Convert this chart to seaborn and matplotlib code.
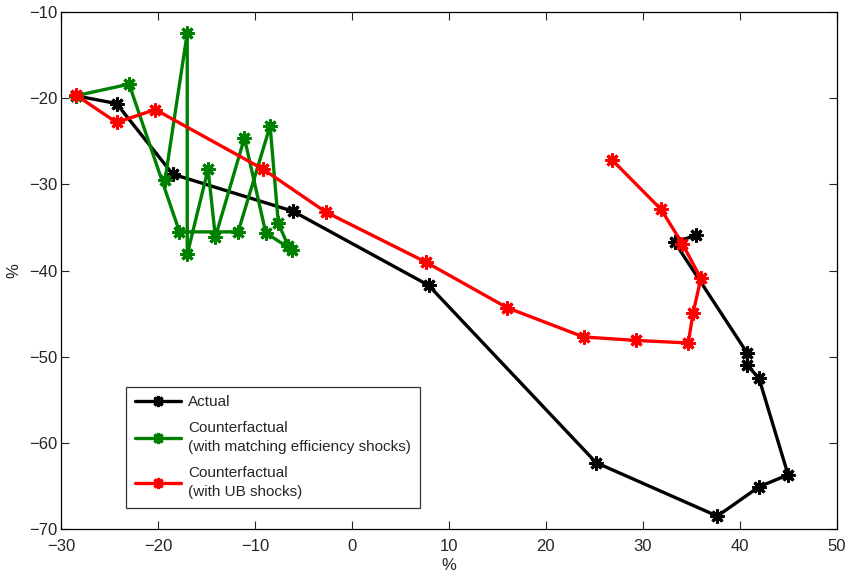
import pandas as pd
import matplotlib
matplotlib.use("Agg")
import matplotlib.pyplot as plt
import seaborn as sns

# Actual path
actual_x = [-28.5, -24.3, -18.5, -6.1, 7.9, 25.2, 37.7, 42.0, 45.0, 42.0, 40.8, 40.8, 33.3, 35.5]
actual_y = [-19.7, -20.6, -28.8, -33.1, -41.7, -62.3, -68.5, -65.1, -63.7, -52.5, -51.0, -49.6, -36.7, -35.9]

# Counterfactual with matching efficiency shocks
match_x = [-28.5, -23.0, -17.8, -11.75, -8.45, -7.6, -6.6, -6.2, -8.9, -11.1, -14.1, -14.85, -17.0, -17.0, -19.3]
match_y = [-19.7, -18.35, -35.5, -35.5, -23.2, -34.5, -37.1, -37.6, -35.6, -24.6, -36.1, -28.2, -38.1, -12.4, -29.5]

# Counterfactual with UB shocks
ub_x = [-28.5, -24.3, -20.3, -9.2, -2.7, 7.6, 16.0, 23.9, 29.3, 34.7, 35.2, 36.0, 34.1, 31.9, 26.8]
ub_y = [-19.6, -22.8, -21.3, -28.2, -33.2, -39.0, -44.3, -47.7, -48.1, -48.4, -44.9, -40.9, -36.9, -32.9, -27.1]

labels = ["Actual",
          "Counterfactual\n(with matching efficiency shocks)",
          "Counterfactual\n(with UB shocks)"]
colors = ["black", (0, 0.5, 0), (1, 0, 0)]

sns.set_style("white")
plt.rcParams['font.family'] = ['Liberation Sans', 'DejaVu Sans']
plt.rcParams['axes.unicode_minus'] = True

fig = plt.figure(figsize=(8.51, 5.82), dpi=100)
ax = fig.add_axes([0.072, 0.091, 0.911, 0.888])

series = [(actual_x, actual_y), (match_x, match_y), (ub_x, ub_y)]
for (xs, ys), lab, col in zip(series, labels, colors):
    df = pd.DataFrame({'x': xs, 'y': ys})
    sns.lineplot(data=df, x='x', y='y', sort=False, estimator=None, ax=ax,
                 color=col, linewidth=2.4, label=lab)
    # asterisk markers drawn on top
    ax.plot(xs, ys, linestyle='none', marker=(8, 2, 0), markersize=10,
            markeredgewidth=2.2, color=col)

ax.set_xlim(-30, 50)
ax.set_ylim(-70, -10)
ax.set_xticks(range(-30, 51, 10))
ax.set_yticks(range(-70, -9, 10))
ax.set_xlabel('%', fontsize=12, labelpad=3)
ax.set_ylabel('%', fontsize=12, labelpad=5)
ax.tick_params(axis='x', pad=7)
ax.tick_params(axis='y', pad=3)
ax.tick_params(direction='in', length=6, width=0.8, labelsize=12,
               top=True, right=True, bottom=True, left=True)
for sp in ax.spines.values():
    sp.set_color('black')
    sp.set_linewidth(0.9)

# legend handles with asterisk markers, like the lines
handles = [plt.Line2D([], [], color=c, linewidth=2.4, marker=(8, 2, 0),
                      markersize=8, markeredgewidth=2.2) for c in colors]
leg = ax.legend(handles, labels, loc='upper left', bbox_to_anchor=(0.084, 0.275),
                borderaxespad=0, fontsize=11, frameon=True, fancybox=False,
                handlelength=3.0, labelspacing=0.75, borderpad=0.55, handletextpad=0.5)
for t in leg.get_texts():
    t.set_linespacing(1.5)
leg.get_frame().set_edgecolor('black')
leg.get_frame().set_linewidth(0.9)

fig.savefig('out.png', dpi=100)
